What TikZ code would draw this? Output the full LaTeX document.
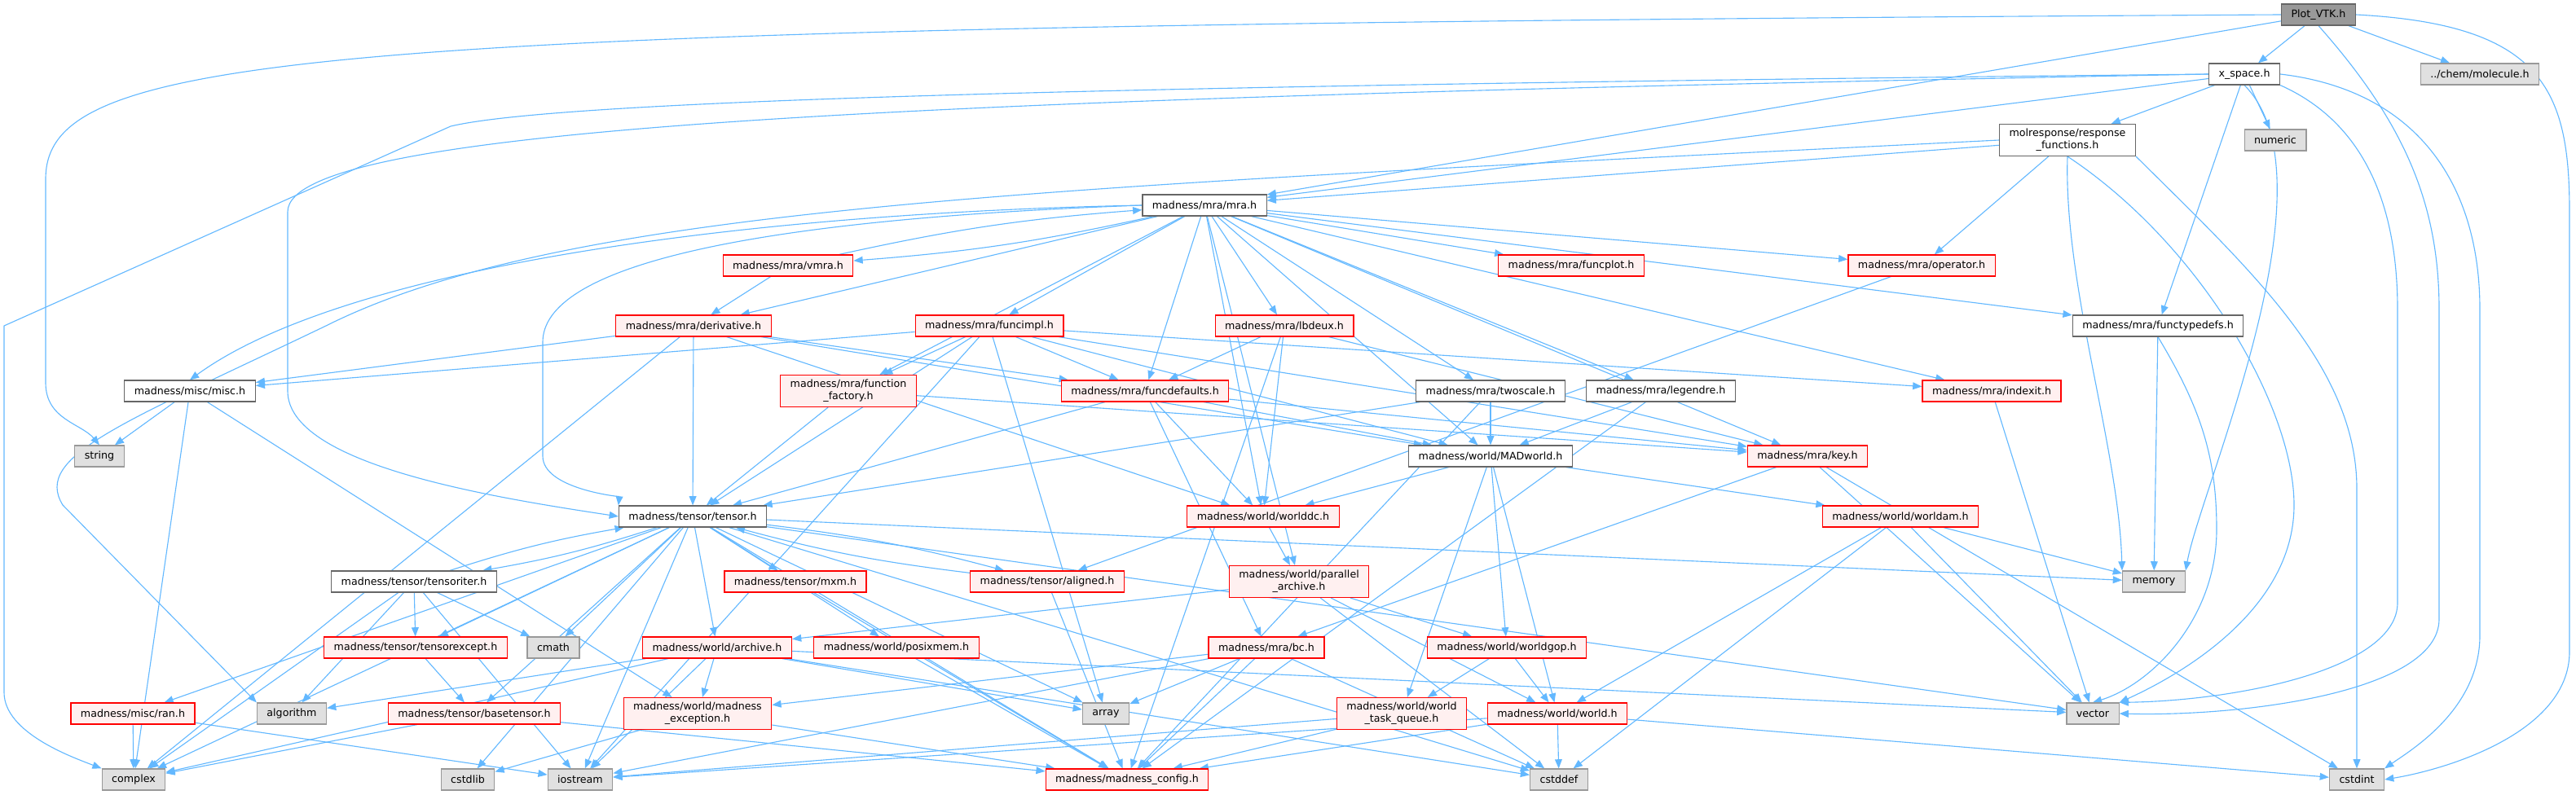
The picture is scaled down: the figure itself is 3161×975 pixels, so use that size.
\documentclass[tikz,border=0pt]{standalone}
\usepackage{fontspec}
\setmainfont{DejaVu Sans}
\usepackage{xcolor}
\usepackage{tikz}
\usetikzlibrary{arrows.meta,backgrounds}
\definecolor{edgeblue}{HTML}{63B8FF}
\definecolor{boxgray}{HTML}{666666}
\definecolor{sysgray}{HTML}{999999}
\definecolor{sysfill}{HTML}{E0E0E0}
\definecolor{truncfill}{HTML}{FFF0F0}
\definecolor{rootfill}{HTML}{999999}
\tikzset{
  file/.style={rectangle,draw=boxgray,fill=white,line width=0.3mm,
    minimum height=6.5mm,inner xsep=3mm,inner ysep=1.4mm,align=center,
    font=\fontsize{9}{10.7}\selectfont},
  trunc/.style={file,draw=red,fill=truncfill},
  sys/.style={file,draw=sysgray,fill=sysfill},
  root/.style={file,draw=boxgray,fill=rootfill},
  arrow/.style={-{Triangle[length=2.8mm,width=2.2mm]},line width=0.28mm,draw=edgeblue}
}

\begin{document}
\begin{tikzpicture}[x=0.25mm,y=-0.25mm]
\useasboundingbox (0,0) rectangle (3161,975);
\node[root] (plot) at (2845,18) {Plot\_VTK.h};
\node[file] (xspace) at (2754,91) {x\_space.h};
\node[sys] (molecule) at (3043,91) {../chem/molecule.h};
\node[file] (resp) at (2537,172) {molresponse/response\\\_functions.h};
\node[sys] (numeric) at (2792,172) {numeric};
\node[file] (mra) at (1478,252) {madness/mra/mra.h};
\node[trunc] (vmra) at (967,326) {madness/mra/vmra.h};
\node[trunc] (funcplot) at (1928,326) {madness/mra/funcplot.h};
\node[trunc] (operator) at (2358,326) {madness/mra/operator.h};
\node[trunc] (deriv) at (851,400) {madness/mra/derivative.h};
\node[trunc] (funcimpl) at (1214,400) {madness/mra/funcimpl.h};
\node[trunc] (lbdeux) at (1576,400) {madness/mra/lbdeux.h};
\node[file] (functypedefs) at (2648,400) {madness/mra/functypedefs.h};
\node[file] (misc) at (233,480) {madness/misc/misc.h};
\node[trunc] (factory) at (1041,480) {madness/mra/function\\\_factory.h};
\node[trunc] (funcdef) at (1405,480) {madness/mra/funcdefaults.h};
\node[file] (twoscale) at (1829,480) {madness/mra/twoscale.h};
\node[file] (legendre) at (2038,480) {madness/mra/legendre.h};
\node[trunc] (indexit) at (2444,480) {madness/mra/indexit.h};
\node[sys] (string) at (122,560) {string};
\node[file] (madworld) at (1829,560) {madness/world/MADworld.h};
\node[trunc] (key) at (2218,560) {madness/mra/key.h};
\node[file] (tensor) at (850,634) {madness/tensor/tensor.h};
\node[trunc] (worlddc) at (1550,634) {madness/world/worlddc.h};
\node[trunc] (worldam) at (2332,634) {madness/world/worldam.h};
\node[file] (tensoriter) at (508,714) {madness/tensor/tensoriter.h};
\node[trunc] (mxm) at (976,714) {madness/tensor/mxm.h};
\node[trunc] (aligned) at (1285,714) {madness/tensor/aligned.h};
\node[trunc] (parchive) at (1594,714) {madness/world/parallel\\\_archive.h};
\node[sys] (memory) at (2643,714) {memory};
\node[trunc] (except) at (510,795) {madness/tensor/tensorexcept.h};
\node[sys] (cmath) at (679,795) {cmath};
\node[trunc] (archive) at (880,795) {madness/world/archive.h};
\node[trunc] (posixmem) at (1100,795) {madness/world/posixmem.h};
\node[trunc] (bc) at (1554,795) {madness/mra/bc.h};
\node[trunc] (worldgop) at (1849,795) {madness/world/worldgop.h};
\node[trunc] (ran) at (163,876) {madness/misc/ran.h};
\node[sys] (algorithm) at (358,876) {algorithm};
\node[trunc] (basetensor) at (582,876) {madness/tensor/basetensor.h};
\node[trunc] (mexcept) at (856,876) {madness/world/madness\\\_exception.h};
\node[sys] (array) at (1357,876) {array};
\node[trunc] (taskq) at (1720,876) {madness/world/world\\\_task\_queue.h};
\node[trunc] (world) at (1911,876) {madness/world/world.h};
\node[sys] (vector) at (2568,876) {vector};
\node[sys] (complex) at (164,957) {complex};
\node[sys] (cstdlib) at (574,957) {cstdlib};
\node[sys] (iostream) at (712,957) {iostream};
\node[trunc] (config) at (1383,957) {madness/madness\_config.h};
\node[sys] (cstddef) at (1913,957) {cstddef};
\node[sys] (cstdint) at (2892,957) {cstdint};
\begin{scope}[on background layer]
\draw[arrow] (plot)--(xspace); \draw[arrow] (plot)--(molecule); \draw[arrow] (plot)--(mra);
\draw[arrow] (plot.west) .. controls (400,32) and (56,60) .. (56,220) -- (56,470) .. controls (56,515) and (100,520) .. (string.north);
\draw[arrow] (plot.south) .. controls (2950,150) and (2993,250) .. (2993,380) -- (2993,760) .. controls (2993,850) and (2750,880) .. (vector.east);
\draw[arrow] (plot.east) .. controls (3120,30) and (3153,110) .. (3153,260) -- (3153,800) .. controls (3153,900) and (3000,945) .. (cstdint.east);
\draw[arrow] (xspace)--(resp); \draw[arrow] (xspace)--(numeric); \draw[arrow] (xspace)--(mra); \draw[arrow] (xspace)--(functypedefs);
\draw[arrow] (xspace.west) .. controls (1500,104) and (700,120) .. (553,155) -- (5,400) -- (5,850) .. controls (5,900) and (90,930) .. (complex.north west);
\draw[arrow] (xspace.west) .. controls (1200,120) and (353,150) .. (353,260) -- (353,480) .. controls (353,570) and (600,610) .. (tensor.west);
\draw[arrow] (xspace.south) .. controls (2870,220) and (2700,600) .. (memory.north east);
\draw[arrow] (xspace.south east) .. controls (2900,150) and (2942,250) .. (2942,380) -- (2942,740) .. controls (2942,820) and (2750,860) .. (vector.north east);
\draw[arrow] (xspace.east) .. controls (2960,110) and (3043,220) .. (3043,380) -- (3043,780) .. controls (3043,870) and (2960,920) .. (cstdint.north east);
\draw[arrow] (resp)--(mra); \draw[arrow] (resp)--(operator);
\draw[arrow] (resp.south) .. controls (2532,350) and (2600,550) .. (memory.north west);
\draw[arrow] (resp.south east) .. controls (2760,330) and (2892,450) .. (2892,600) -- (cstdint.north);
\draw[arrow] (resp.south) .. controls (2700,300) and (2815,500) .. (2815,620) .. controls (2815,760) and (2650,840) .. (vector.north east);
\draw[arrow] (resp.west) .. controls (1300,230) and (700,250) .. (400,400) .. controls (150,520) and (40,560) .. (77,620) -- (algorithm.north west);
\draw[arrow] (mra) to[bend left=4] (vmra); \draw[arrow] (vmra) to[bend left=4] (mra);
\draw[arrow] (mra)--(funcplot); \draw[arrow] (mra)--(operator); \draw[arrow] (mra)--(deriv); \draw[arrow] (mra)--(funcimpl);
\draw[arrow] (mra)--(lbdeux); \draw[arrow] (mra)--(functypedefs); \draw[arrow] (mra)--(factory); \draw[arrow] (mra)--(funcdef);
\draw[arrow] (mra)--(twoscale); \draw[arrow] (mra)--(legendre); \draw[arrow] (mra)--(indexit); \draw[arrow] (mra)--(madworld);
\draw[arrow] (mra)--(key); \draw[arrow] (mra)--(worlddc); \draw[arrow] (mra)--(parchive);
\draw[arrow] (mra.west) .. controls (900,270) and (666,330) .. (666,420) -- (666,560) .. controls (666,600) and (760,610) .. (tensor.north west);
\draw[arrow] (mra.west) .. controls (900,262) and (420,330) .. (misc.north);
\draw[arrow] (vmra)--(deriv);
\draw[arrow] (deriv)--(misc); \draw[arrow] (deriv)--(funcdef); \draw[arrow] (deriv)--(tensor); \draw[arrow] (deriv)--(worlddc);
\draw[arrow] (deriv)--(madworld); \draw[arrow] (deriv)--(complex);
\draw[arrow] (funcimpl)--(misc); \draw[arrow] (funcimpl)--(factory); \draw[arrow] (funcimpl)--(funcdef); \draw[arrow] (funcimpl)--(tensor);
\draw[arrow] (funcimpl)--(madworld); \draw[arrow] (funcimpl)--(key); \draw[arrow] (funcimpl)--(indexit); \draw[arrow] (funcimpl)--(array);
\draw[arrow] (funcimpl)--(iostream);
\draw[arrow] (lbdeux)--(funcdef); \draw[arrow] (lbdeux)--(key); \draw[arrow] (lbdeux)--(worlddc); \draw[arrow] (lbdeux)--(config);
\draw[arrow] (factory)--(tensor); \draw[arrow] (factory)--(key);
\draw[arrow] (funcdef)--(tensor); \draw[arrow] (funcdef)--(madworld); \draw[arrow] (funcdef)--(worlddc); \draw[arrow] (funcdef)--(key);
\draw[arrow] (funcdef)--(bc);
\draw[arrow] (twoscale)--(madworld); \draw[arrow] (twoscale)--(tensor); \draw[arrow] (twoscale)--(config);
\draw[arrow] (legendre)--(madworld); \draw[arrow] (legendre)--(config);
\draw[arrow] (misc)--(string); \draw[arrow] (misc)--(complex); \draw[arrow] (misc)--(mexcept);
\draw[arrow] (indexit)--(vector); \draw[arrow] (operator)--(aligned);
\draw[arrow] (functypedefs)--(memory);
\draw[arrow] (functypedefs.south) .. controls (2700,500) and (2720,560) .. (2720,650) .. controls (2720,760) and (2640,840) .. (vector.north);
\draw[arrow] (madworld)--(worlddc); \draw[arrow] (madworld)--(worldam); \draw[arrow] (madworld)--(worldgop); \draw[arrow] (madworld)--(taskq);
\draw[arrow] (madworld)--(world);
\draw[arrow] (key)--(bc); \draw[arrow] (key)--(vector); \draw[arrow] (key)--(cstdint);
\draw[arrow] (worlddc)--(parchive);
\draw[arrow] (worldam)--(memory); \draw[arrow] (worldam)--(vector); \draw[arrow] (worldam)--(world); \draw[arrow] (worldam)--(cstddef);
\draw[arrow] (tensor) to[bend left=4] (tensoriter); \draw[arrow] (tensoriter) to[bend left=4] (tensor);
\draw[arrow] (tensor) to[bend left=4] (aligned); \draw[arrow] (aligned) to[bend left=4] (tensor);
\draw[arrow] (tensor)--(mxm); \draw[arrow] (tensor)--(except); \draw[arrow] (tensor)--(cmath); \draw[arrow] (tensor)--(archive);
\draw[arrow] (tensor)--(posixmem); \draw[arrow] (tensor)--(basetensor); \draw[arrow] (tensor)--(ran); \draw[arrow] (tensor)--(array);
\draw[arrow] (tensor)--(memory); \draw[arrow] (tensor)--(vector); \draw[arrow] (tensor)--(complex); \draw[arrow] (tensor)--(cstdlib);
\draw[arrow] (tensor)--(iostream); \draw[arrow] (tensor)--(config); \draw[arrow] (tensor)--(cstddef);
\draw[arrow] (tensoriter)--(except); \draw[arrow] (tensoriter)--(cmath); \draw[arrow] (tensoriter)--(algorithm);
\draw[arrow] (tensoriter)--(complex); \draw[arrow] (tensoriter)--(iostream);
\draw[arrow] (mxm)--(config); \draw[arrow] (aligned)--(config);
\draw[arrow] (parchive)--(archive); \draw[arrow] (parchive)--(worldgop); \draw[arrow] (parchive)--(world); \draw[arrow] (parchive)--(cstddef);
\draw[arrow] (except)--(basetensor);
\draw[arrow] (archive)--(algorithm); \draw[arrow] (archive)--(mexcept); \draw[arrow] (archive)--(iostream); \draw[arrow] (archive)--(complex);
\draw[arrow] (archive)--(array); \draw[arrow] (archive)--(vector); \draw[arrow] (archive)--(cstddef);
\draw[arrow] (posixmem)--(config);
\draw[arrow] (bc)--(array); \draw[arrow] (bc)--(mexcept); \draw[arrow] (bc)--(config); \draw[arrow] (bc)--(iostream); \draw[arrow] (bc)--(cstddef);
\draw[arrow] (worldgop)--(taskq); \draw[arrow] (worldgop)--(world);
\draw[arrow] (ran)--(complex); \draw[arrow] (ran)--(iostream);
\draw[arrow] (basetensor)--(complex); \draw[arrow] (basetensor)--(config);
\draw[arrow] (mexcept)--(cstdlib); \draw[arrow] (mexcept)--(config);
\draw[arrow] (taskq)--(iostream); \draw[arrow] (taskq)--(config);
\draw[arrow] (world)--(config); \draw[arrow] (world)--(iostream); \draw[arrow] (world)--(cstddef); \draw[arrow] (world)--(cstdint);
\end{scope}
\end{tikzpicture}
\end{document}
